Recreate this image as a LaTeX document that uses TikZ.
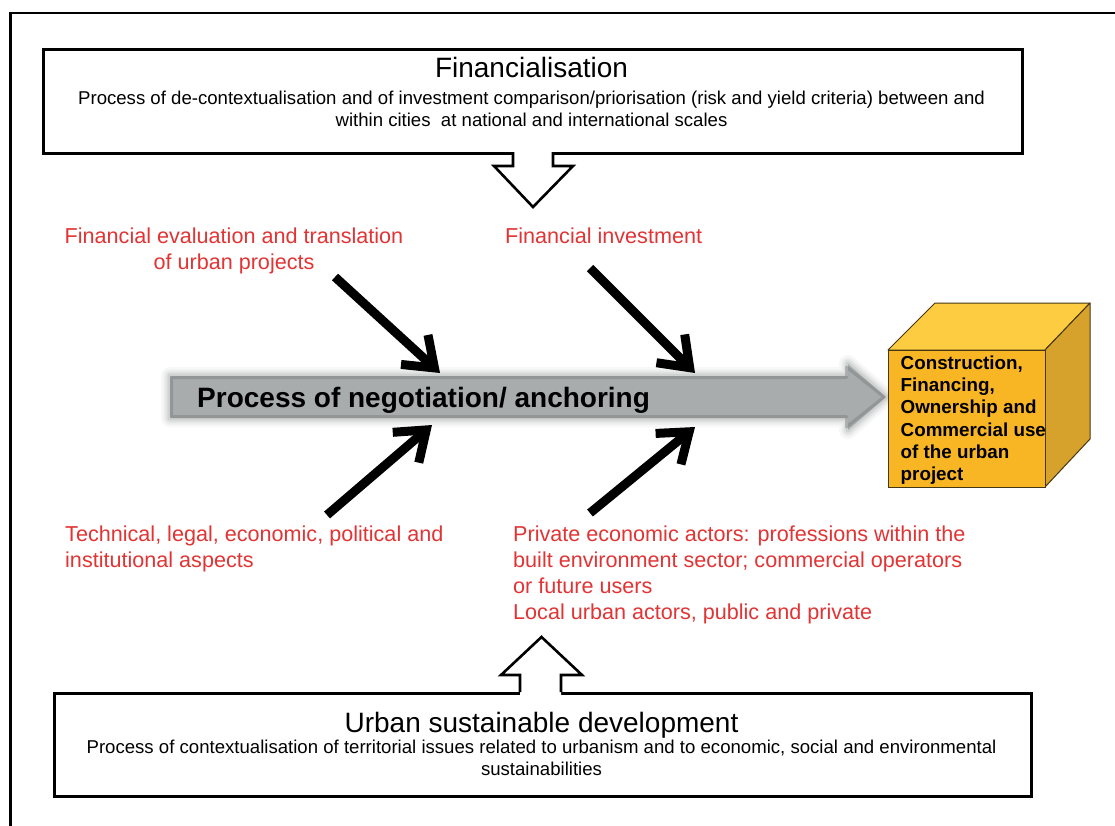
\documentclass[tikz,border=0pt]{standalone}
\usepackage{fontspec}
\setmainfont{Liberation Sans}
\usetikzlibrary{arrows.meta}
\definecolor{labelred}{RGB}{226,52,52}
\definecolor{bargray}{RGB}{168,172,172}
\definecolor{bardark}{RGB}{105,109,109}
\definecolor{cubefront}{RGB}{248,182,36}
\definecolor{cubetop}{RGB}{253,204,64}
\definecolor{cubeside}{RGB}{214,162,44}
\definecolor{cubeline}{RGB}{70,55,20}

\begin{document}
\begin{tikzpicture}[x=1pt,y=-1pt,
  panel/.style={draw=black, line width=3pt, fill=white, inner sep=0pt, anchor=north west},
  hollow/.style={draw=black, line width=2.6pt, line join=miter},
  titletext/.style={font=\fontsize{28}{32}\selectfont, inner sep=0pt, anchor=base},
  desctext/.style={font=\fontsize{18.6}{21.5}\selectfont, align=center, inner sep=0pt, anchor=north},
  redlabel/.style={font=\fontsize{21.6}{26}\selectfont, text=labelred, inner sep=0pt},
  cubetext/.style={font=\bfseries\fontsize{18.8}{22.3}\selectfont, align=left, inner sep=0pt, anchor=north west},
  pusharrow/.style={line width=9pt, -{Straight Barb[length=27pt, width=40pt]}}
]
\useasboundingbox (0,0) rectangle (1115,825);
\clip (0,0) rectangle (1115,825);
\fill[white] (0,0) rectangle (1115,825);

% outer frame (continues past the right and bottom edges)
\draw[line width=2.6pt] (10.5,900) -- (10.5,13) -- (1200,13);

% ---------- top panel: financialisation ----------
\node[panel, minimum width=979pt, minimum height=104pt] (fin) at (42,48) {};
\node[titletext] (fintitle) at (531.5,77) {Financialisation};
\node[desctext] (findesc) at (531.5,91) {Process of de-contextualisation and of investment comparison/priorisation (risk and yield criteria) between and\\within cities\ \ at national and international scales};

% hollow arrow pointing down from the panel
\fill[white] (513,149) -- (513,166) -- (494,166) -- (533,207) -- (573,166) -- (553,166) -- (553,149) -- cycle;
\draw[hollow] (513,152) -- (513,166) -- (494,166) -- (533,207) -- (573,166) -- (553,166) -- (553,152);

% ---------- bottom panel: urban sustainable development ----------
\node[panel, minimum width=977pt, minimum height=103pt] (usd) at (53,692) {};
\node[titletext] (usdtitle) at (541.5,732) {Urban sustainable development};
\node[desctext] (usddesc) at (541.5,740) {Process of contextualisation of territorial issues related to urbanism and to economic, social and environmental\\sustainabilities};

% hollow arrow pointing up from the panel
\fill[white] (520,695) -- (520,675) -- (501,675) -- (541.5,637) -- (582,675) -- (561,675) -- (561,695) -- cycle;
\draw[hollow] (520,692) -- (520,675) -- (501,675) -- (541.5,637) -- (582,675) -- (561,675) -- (561,692);

% ---------- central grey arrow ----------
\foreach \w/\o in {18/0.05, 13/0.07, 9/0.09, 5/0.12}
  \draw[line width=\w pt, bardark, opacity=\o, line join=round]
    (170,376) -- (848,376) -- (848,364) -- (886,397) -- (848,430) -- (848,418) -- (170,418) -- cycle;
\fill[bargray] (170,376) -- (848,376) -- (848,364) -- (886,397) -- (848,430) -- (848,418) -- (170,418) -- cycle;
\draw[line width=3pt, bardark, opacity=0.35, line join=round]
  (171.5,377.5) -- (846.5,377.5) -- (846.5,367) -- (884,397) -- (846.5,427) -- (846.5,416.5) -- (171.5,416.5) -- cycle;
\node[font=\bfseries\fontsize{28}{32}\selectfont, inner sep=0pt, anchor=base west] (neg) at (197,407) {Process of negotiation/ anchoring};

% ---------- cube ----------
\fill[cubetop, draw=cubeline, line width=1pt, line join=round] (888,350) -- (935,303) -- (1090,303) -- (1045,350) -- cycle;
\fill[cubeside, draw=cubeline, line width=1pt, line join=round] (1045,350) -- (1090,303) -- (1090,439) -- (1045,487) -- cycle;
\node[draw=cubeline, line width=1pt, fill=cubefront, minimum width=157pt, minimum height=137pt, inner sep=0pt, anchor=north west] (cube) at (888,350) {};
\node[cubetext] (cubelabel) at (900.5,355.5) {Construction,\\Financing,\\Ownership and\\Commercial use\\of the urban\\project};

% ---------- red labels ----------
\node[redlabel, align=center, anchor=north] (evaluation) at (234,227.5) {Financial evaluation and translation\\of urban projects};
\node[redlabel, align=left, anchor=north west] (investment) at (505,227.5) {Financial investment};
\node[redlabel, align=left, anchor=north west] (aspects) at (65,525.5) {Technical, legal, economic, political and\\institutional aspects};
\node[redlabel, align=left, anchor=north west] (actors) at (513,525.5) {Private economic actors: professions within the\\built environment sector; commercial operators\\or future users\\Local urban actors, public and private};

% ---------- black pushing arrows ----------
\coordinate (t1) at (335,277);  \coordinate (h1) at (440,373);
\coordinate (t2) at (590,268);  \coordinate (h2) at (695,373);
\coordinate (t3) at (327,515);  \coordinate (h3) at (432,425);
\coordinate (t4) at (590,513);  \coordinate (h4) at (695,427);
\draw[pusharrow] (t1) -- (h1);
\draw[pusharrow] (t2) -- (h2);
\draw[pusharrow] (t3) -- (h3);
\draw[pusharrow] (t4) -- (h4);
\end{tikzpicture}
\end{document}
